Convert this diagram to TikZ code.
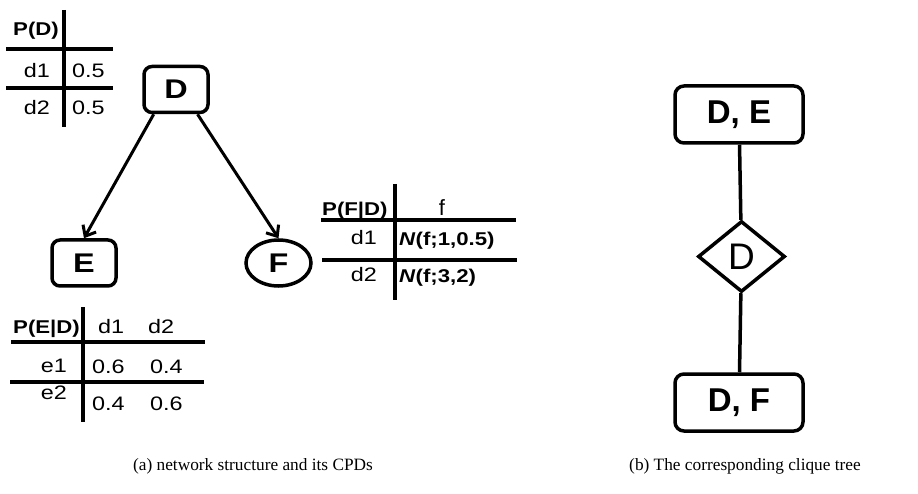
\documentclass[tikz,border=0pt]{standalone}
\usepackage{fontspec}
\usepackage{tikz}
\usetikzlibrary{arrows.meta, positioning, shapes.geometric}
\newfontfamily\arialw[FakeStretch=1.2]{Liberation Sans}
\newfontfamily\arial{Liberation Sans}
\newfontfamily\capfont{Liberation Serif}

\tikzset{
  var/.style={draw, line width=3.5pt, rounded corners=8pt, inner sep=0pt,
              minimum width=64pt, minimum height=46pt,
              font=\arialw\bfseries\fontsize{27}{27}\selectfont},
  oval/.style={var, ellipse, rounded corners=0pt, minimum width=65pt},
  cell/.style={inner sep=0pt, font=\arialw\fontsize{19.5}{20}\selectfont},
  head/.style={inner sep=0pt, font=\arialw\bfseries\fontsize{18.5}{19}\selectfont},
  rule/.style={line width=3.5pt},
  edge/.style={line width=3pt, -{Straight Barb[length=9pt, width=15pt]}},
  clique/.style={draw, line width=3.5pt, rounded corners=9pt, inner sep=0pt,
                 minimum width=128pt, minimum height=57pt,
                 font=\arial\bfseries\fontsize{33}{33}\selectfont},
  sepset/.style={draw, diamond, line width=3.5pt, inner sep=0pt,
                 minimum width=87pt, minimum height=71pt,
                 font=\arial\fontsize{37}{37}\selectfont},
  link/.style={line width=3.5pt},
  caption/.style={inner sep=0pt, font=\capfont\fontsize{17.3}{18}\selectfont}
}

\begin{document}
\begin{tikzpicture}[x=1pt, y=-1pt]
  \useasboundingbox (0,0) rectangle (918,494);

  % Network structure
  \node[var] (D) at (176,89.5) {D};
  \node[var] (E) at (84,263) {E};
  \node[oval] (F) at (278.5,263) {F};
  \draw[edge] (D.228) -- (E.north);
  \draw[edge] (D.311) -- (F.north);

  % CPD of D
  \node[head, anchor=base west] (pd-h) at (13,36) {P(D)};
  \foreach \r/\yb in {1/78, 2/115} {
    \node[cell, anchor=base east] (pd-l\r) at (50,\yb) {d\r};
    \node[cell, anchor=base west] (pd-v\r) at (72,\yb) {0.5};
  }
  \draw[rule] (64,10) -- (64,127);
  \draw[rule] (6,49) -- (113,49) (6,88) -- (113,88);

  % CPD of E
  \node[head, anchor=base west] (pe-h) at (13,334) {P(E|D)};
  \node[cell, anchor=base west] (pe-c1) at (98,334) {d1};
  \node[cell, anchor=base west] (pe-c2) at (148,334) {d2};
  \foreach \r/\yl/\a/\b/\yv in {1/372/0.6/0.4/373, 2/399/0.4/0.6/410} {
    \node[cell, anchor=base east] (pe-l\r) at (67,\yl) {e\r};
    \node[cell, anchor=base west] (pe-a\r) at (92,\yv) {\a};
    \node[cell, anchor=base west] (pe-b\r) at (150,\yv) {\b};
  }
  \draw[rule] (83,307) -- (83,422);
  \draw[rule] (11,342) -- (205,342) (10,382) -- (204,382);

  % CPD of F
  \node[head, anchor=base west] (pf-h) at (322,216) {P(F|D)};
  \node[cell, anchor=base, font=\arial\fontsize{22}{22}\selectfont] (pf-c) at (442,216) {f};
  \foreach \r/\yl/\args/\yv in {1/245/{1,0.5}/246, 2/282/{3,2}/283} {
    \node[cell, anchor=base east] (pf-l\r) at (377,\yl) {d\r};
    \node[head, anchor=base west] (pf-v\r) at (399,\yv) {\textit{N}(f;\args)};
  }
  \draw[rule] (395,184) -- (395,300);
  \draw[rule] (321,220) -- (516,220) (322,260) -- (517,260);

  % Clique tree
  \node[clique] (DE) at (739,114.5) {D, E};
  \node[sepset] (sep) at (741.5,256.5) {D};
  \node[clique] (DF) at (739,402.5) {D, F};
  \draw[link] (DE) -- (sep) -- (DF);

  % Captions
  \node[caption] (capa) at (253,466) {(a) network structure and its CPDs};
  \node[caption] (capb) at (745,466) {(b) The corresponding clique tree};
\end{tikzpicture}
\end{document}
